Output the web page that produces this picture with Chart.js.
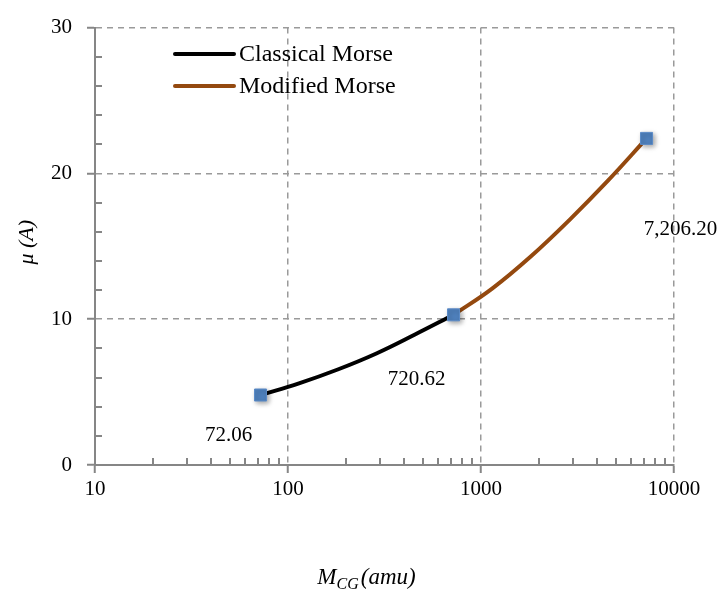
<!DOCTYPE html>
<html>
<head>
<meta charset="utf-8">
<script src="https://cdn.jsdelivr.net/npm/chart.js@4"></script>
<style>
  html, body { margin: 0; padding: 0; background: #fff; }
  #chart { display: block; }
</style>
</head>
<body>
<canvas id="chart" width="717" height="590"></canvas>
<script>
// Valores (M_CG en amu, mu en A)
const classicalX = [72.06, 114, 181, 287, 455, 720.62];
const classicalY = [4.8, 5.6, 6.55, 7.65, 8.95, 10.3];
const modifiedX = [720.62, 1142, 1810, 2869, 4547, 7206.2];
const modifiedY = [10.3, 12.1, 14.3, 16.8, 19.5, 22.4];
const pointX = [72.06, 720.62, 7206.2];
const pointY = [4.8, 10.3, 22.4];
const pointLabels = ['72.06', '720.62', '7,206.20'];
const xTicks = [10, 100, 1000, 10000];
const yTicks = [0, 10, 20, 30];
const seriesNames = ['Classical Morse', 'Modified Morse'];

const SERIF = '"Liberation Serif", "DejaVu Serif", serif';
const AXIS_COLOR = '#868686';
const GRID_COLOR = '#9a9a9a';

function toPoints(xs, ys) {
    return xs.map((x, i) => ({ x: x, y: ys[i] }));
}

// marcas menores de los ejes, leyenda, etiquetas y titulos
const extras = {
    id: 'extras',
    beforeDatasetsDraw(chart) {
        const { ctx, chartArea: { left, bottom }, scales: { x, y } } = chart;
        ctx.save();
        ctx.strokeStyle = AXIS_COLOR;
        ctx.lineWidth = 2;
        ctx.beginPath();
        for (let d = 10; d < 10000; d *= 10) {
            for (let k = 2; k <= 9; k++) {
                const px = Math.round(x.getPixelForValue(k * d));
                ctx.moveTo(px, bottom);
                ctx.lineTo(px, bottom - 7);
            }
        }
        for (let v = 2; v < 30; v += 2) {
            if (v % 10 === 0) continue;
            const py = Math.round(y.getPixelForValue(v));
            ctx.moveTo(left, py);
            ctx.lineTo(left + 7, py);
        }
        ctx.stroke();
        ctx.restore();
    },
    beforeDatasetDraw(chart, args) {
        if (args.index === 2) {
            const ctx = chart.ctx;
            ctx.save();
            ctx.shadowColor = 'rgba(0,0,0,0.35)';
            ctx.shadowBlur = 5;
            ctx.shadowOffsetX = 2;
            ctx.shadowOffsetY = 2;
        }
    },
    afterDatasetDraw(chart, args) {
        if (args.index === 2) chart.ctx.restore();
    },
    afterDraw(chart) {
        const { ctx, chartArea: { left, right, top, bottom }, scales: { x, y } } = chart;
        ctx.save();

        // leyenda
        const colors = [chart.data.datasets[0].borderColor, chart.data.datasets[1].borderColor];
        ctx.font = '24px ' + SERIF;
        ctx.textBaseline = 'middle';
        ctx.textAlign = 'left';
        seriesNames.forEach((name, i) => {
            const ly = 54 + i * 32;
            ctx.strokeStyle = colors[i];
            ctx.lineWidth = 4;
            ctx.lineCap = 'round';
            ctx.beginPath();
            ctx.moveTo(175, ly);
            ctx.lineTo(234, ly);
            ctx.stroke();
            ctx.fillStyle = '#000';
            ctx.fillText(name, 239, ly + 1);
        });

        // etiquetas de los puntos
        ctx.font = '21px ' + SERIF;
        const offsets = [[-32, 40], [-37, 65], [34, 91]];
        ctx.textAlign = 'center';
        pointLabels.forEach((lab, i) => {
            const px = x.getPixelForValue(pointX[i]);
            const py = y.getPixelForValue(pointY[i]);
            ctx.fillText(lab, px + offsets[i][0], py + offsets[i][1]);
        });

        // titulo eje x: M_CG (amu)
        ctx.textAlign = 'left';
        ctx.textBaseline = 'alphabetic';
        const big = 'italic 23px ' + SERIF;
        const small = 'italic 16px ' + SERIF;
        ctx.font = big;
        const wM = ctx.measureText('M').width;
        const wRest = ctx.measureText('(amu)').width;
        ctx.font = small;
        const wSub = ctx.measureText('CG').width;
        const total = wM + wSub + 2 + wRest;
        let tx = (left + right) / 2 - 18 - total / 2;
        const ty = 584;
        ctx.font = big;
        ctx.fillText('M', tx, ty);
        tx += wM;
        ctx.font = small;
        ctx.fillText('CG', tx, ty + 5);
        tx += wSub + 2;
        ctx.font = big;
        ctx.fillText('(amu)', tx, ty);

        // titulo eje y
        ctx.translate(27, (top + bottom) / 2 - 4);
        ctx.rotate(-Math.PI / 2);
        ctx.textAlign = 'center';
        ctx.textBaseline = 'middle';
        ctx.font = 'italic 22px ' + SERIF;
        ctx.fillText('\u03bc (A)', 0, 0);
        ctx.restore();
    }
};

new Chart(document.getElementById('chart'), {
    type: 'scatter',
    data: {
        datasets: [
            {
                label: seriesNames[0],
                data: toPoints(classicalX, classicalY),
                showLine: true,
                borderColor: '#000000',
                borderWidth: 4,
                pointRadius: 0,
                tension: 0.4,
                order: 1
            },
            {
                label: seriesNames[1],
                data: toPoints(modifiedX, modifiedY),
                showLine: true,
                borderColor: '#94490f',
                borderWidth: 4,
                pointRadius: 0,
                tension: 0.4,
                order: 2
            },
            {
                label: 'puntos',
                data: toPoints(pointX, pointY),
                showLine: false,
                pointStyle: 'rect',
                pointRadius: 8.5,
                backgroundColor: '#4f81bd',
                borderColor: '#5b8bc8',
                borderWidth: 1,
                order: 0
            }
        ]
    },
    options: {
        responsive: false,
        animation: false,
        layout: { padding: { top: 20, right: 43, left: 0, bottom: 0 } },
        plugins: {
            legend: { display: false },
            tooltip: { enabled: false }
        },
        scales: {
            x: {
                type: 'logarithmic',
                min: 10,
                max: 10000,
                afterBuildTicks: (scale) => { scale.ticks = xTicks.map(v => ({ value: v })); },
                afterFit: (scale) => { scale.height = 125; },
                ticks: {
                    callback: (v) => String(v),
                    font: { family: SERIF, size: 21 },
                    color: '#000',
                    padding: 4,
                    maxRotation: 0,
                    autoSkip: false
                },
                grid: {
                    color: GRID_COLOR,
                    lineWidth: 1.5,
                    tickColor: AXIS_COLOR,
                    tickWidth: 2,
                    tickLength: 8
                },
                border: { color: AXIS_COLOR, width: 2, dash: [6, 5] }
            },
            y: {
                min: 0,
                max: 30,
                afterBuildTicks: (scale) => { scale.ticks = yTicks.map(v => ({ value: v })); },
                afterFit: (scale) => { scale.width = 95; },
                ticks: {
                    font: { family: SERIF, size: 21 },
                    color: '#000',
                    padding: 15
                },
                grid: {
                    color: GRID_COLOR,
                    lineWidth: 1.5,
                    tickColor: AXIS_COLOR,
                    tickWidth: 2,
                    tickLength: 8
                },
                border: { color: AXIS_COLOR, width: 2, dash: [6, 5] }
            }
        }
    },
    plugins: [extras]
});
</script>
</body>
</html>
